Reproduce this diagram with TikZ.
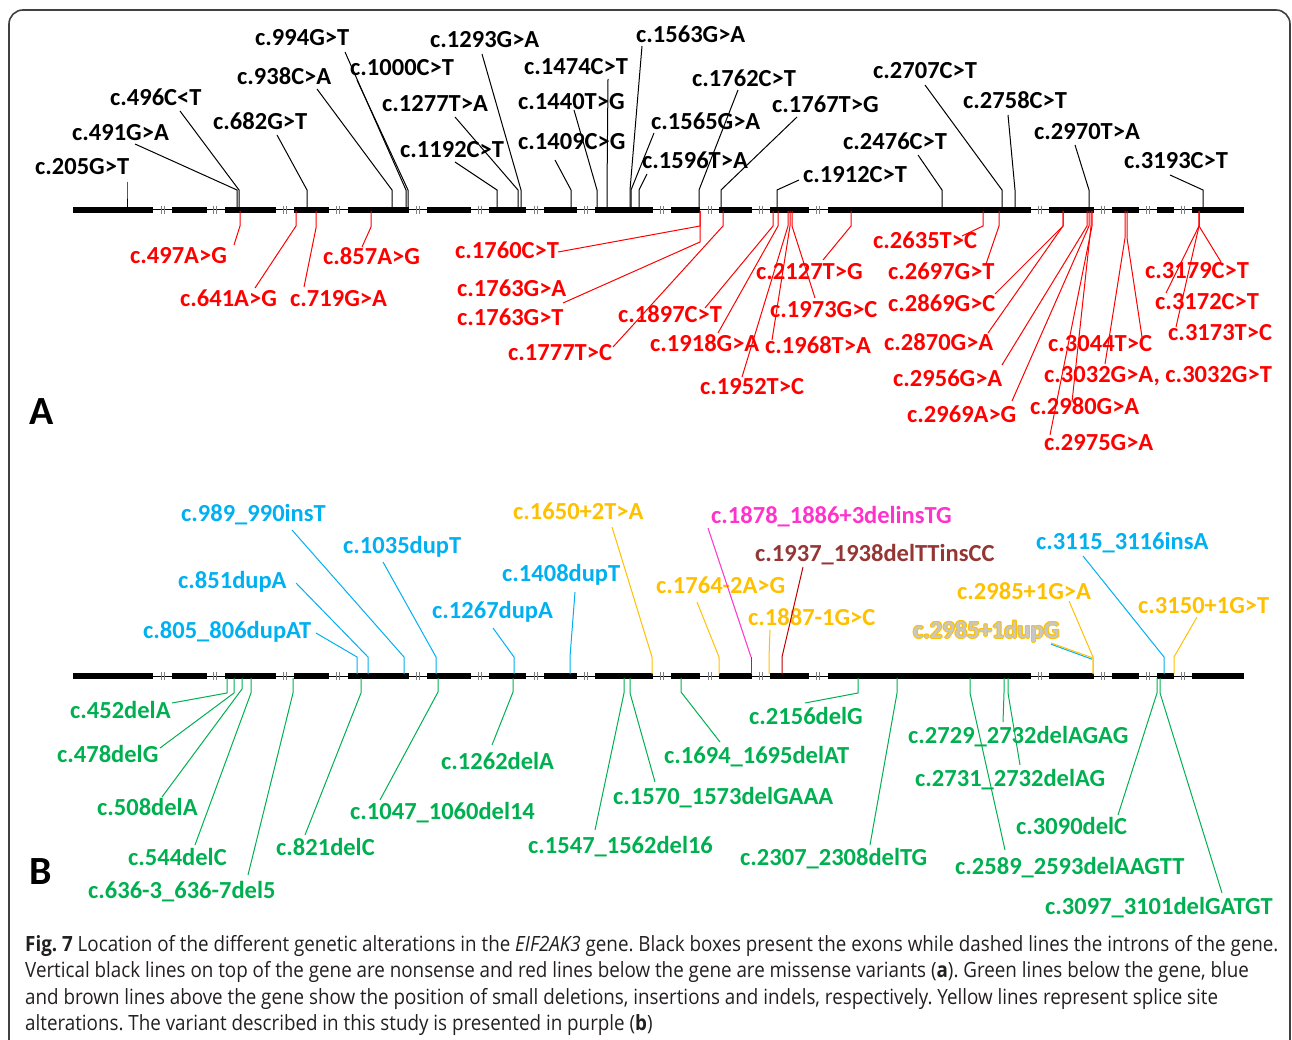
\documentclass[tikz,border=0pt]{standalone}
\usepackage{fontspec}
\setmainfont{Carlito}
\newfontfamily\capfont[FakeStretch=0.895]{Open Sans}
\frenchspacing

\definecolor{mis}{HTML}{FF0000}
\definecolor{ins}{HTML}{00B0F0}
\definecolor{spl}{HTML}{FFC000}
\definecolor{del}{HTML}{00B050}
\definecolor{pur}{HTML}{7030A0}
\definecolor{mag}{HTML}{FF33CC}
\definecolor{brw}{HTML}{943634}
\definecolor{dred}{HTML}{C00000}
\definecolor{captxt}{HTML}{231F20}
\definecolor{frm}{HTML}{404040}

\begin{document}
\begin{tikzpicture}[x=1pt,y=-1pt,
    var/.style={font=\fontsize{24.5}{28}\selectfont\bfseries,anchor=base west,inner sep=0pt},
    lnk/.style={line width=1pt},
    capline/.style={font=\capfont\fontsize{21}{26}\selectfont,text=captxt,anchor=base west,inner sep=0pt},
    panel/.style={font=\fontsize{40}{44}\selectfont\bfseries,anchor=base west,inner sep=0pt}]
  \useasboundingbox (0,0) rectangle (1292,1040);
  \draw[frm,line width=1.6pt,rounded corners=14] (9,1050) -- (9,10) -- (1290,10) -- (1290,1050);

  % --- gene model (A and B) ---
  \foreach \gy in {209.7,676}{
    \draw[line width=1pt] (73,\gy) -- (1244,\gy);
    \foreach \a/\b in {73/153,172/207,225/276,294/329,348/409,427/471,489/526,544/577,
        595/653,671/700,719/752,770/809,828/1031,1049/1094,1112/1139,1157/1174,1192/1244}
      \fill (\a,\gy-2.9) rectangle (\b,\gy+2.9);
    \foreach \m in {163,215,285,338,418,480,536,586,662,710,761,818,1040,1103,1148,1183}
      \draw[gray,line width=0.9pt] (\m-1.3,\gy-4) -- (\m-1.3,\gy+4) (\m+1.3,\gy-4) -- (\m+1.3,\gy+4);
  }

  % --- A: nonsense (above) ---
  \foreach \g/\ex/\ey/\lx/\ly/\t [count=\k] in {%
      127/127/182/35/175/{c.205G>T}, 237/135/144/72/141/{c.491G>A},
      239/180/111/110/106/{c.496C<T}, 307/277/135/213/130/{c.682G>T},
      392/317/89/237/85/{c.938C>A}, 406/345/52/255/46/{c.994G>T},
      408/357/80/350/76/{c.1000C>T}, 497/455/162/400/158/{c.1192C>T},
      518/455/117/382/112/{c.1277T>A}, 521/482/54/430/48/{c.1293G>A},
      571/555/160/518/150/{c.1409C>G}, 597/574/110/518/110/{c.1440T>G},
      607/608/79/524/75/{c.1474C>T}, 630/642/46/636/43/{c.1563G>A},
      631/654/133/651/130/{c.1565G>A}, 639/647/174/642/169/{c.1596T>A},
      699/738/90/692/87/{c.1762C>T}, 721/797/117/772/113/{c.1767T>G},
      777/799/180/803/183/{c.1912C>T}, 942/918/155/843/150/{c.2476C>T},
      1002/925/85/873/79/{c.2707C>T}, 1015/1008/115/963/109/{c.2758C>T},
      1089/1075/145/1034/140/{c.2970T>A}, 1203/1170/175/1124/169/{c.3193C>T}}{
    \node[var] (ns\k) at (\lx,\ly) {\t};
    \coordinate (nse\k) at (\ex,\ey);
    \coordinate (nsg\k) at (\g,208);
    \draw[lnk] (nse\k) -- (\g,190) -- (nsg\k);
  }

  % --- A: missense (below) ---
  \foreach \g/\by/\ex/\ey/\lx/\ly/\t [count=\k] in {%
      240/226/234/245/130/264/{c.497A>G}, 296/226/255/288/180/307/{c.641A>G},
      316/228/304/287/290/307/{c.719G>A}, 371/227/362/247/323/265/{c.857A>G},
      700/226/558/252/455/259/{c.1760C>T}, 700/242/563/303/457/297/{c.1763G>A},
      723/226/613/347/508/360/{c.1777T>C}, 773/226/705/308/618/323/{c.1897C>T},
      778/226/718/333/650/351/{c.1918G>A}, 788/226/742/377/700/394/{c.1952T>C},
      790/226/772/340/765/353/{c.1968T>A}, 792/226/815/298/770/317/{c.1973G>C},
      851/226/823/260/756/280/{c.2127T>G}, 983/226/962/236/873/249/{c.2635T>C},
      999/226/986/264/888/280/{c.2697G>T}, 1063/226/995/294/888/312/{c.2869G>C},
      1063/226/988/333/884/350/{c.2870G>A}, 1087/226/1002/365/893/386/{c.2956G>A},
      1089/226/1012/401/907/422/{c.2969A>G}, 1091/226/1072/402/1030/414/{c.2980G>A},
      1092/226/1050/435/1044/450/{c.2975G>A}, 1127/238/1142/337/1048/352/{c.3044T>C},
      1125/238/1105/364/1044/382/{c.3032G>A, c.3032G>T}, 1199/226/1221/262/1145/279/{c.3179C>T},
      1199/226/1166/293/1155/309/{c.3172C>T}, 1199/226/1176/327/1168/340/{c.3173T>C}}{
    \node[var,text=mis] (ms\k) at (\lx,\ly) {\t};
    \coordinate (mse\k) at (\ex,\ey);
    \coordinate (msg\k) at (\g,211);
    \draw[lnk,mis] (msg\k) -- (\g,\by) -- (mse\k);
  }
  \node[var,text=mis] (ms1763t) at (457,326) {c.1763G>T};

  \node[panel] (pa) at (29,424) {A};

  % --- B: insertions, indels, splice (above) ---
  \foreach \g/\ex/\ey/\lx/\ly/\t/\lc/\cc [count=\k] in {%
      357/316/633/143/638/{c.805\_806dupAT}/ins/ins,
      368/296/583/178/588/{c.851dupA}/ins/ins,
      404/292/530/181/521/{c.989\_990insT}/ins/ins,
      436/383/562/343/553/{c.1035dupT}/ins/ins,
      514/493/628/432/618/{c.1267dupA}/ins/ins,
      570/575/592/502/581/{c.1408dupT}/ins/ins,
      652/612/527/513/519/{c.1650+2T>A}/spl/spl,
      719/697/602/656/593/{c.1764-2A>G}/spl/spl,
      769/770/630/748/625/{c.1887-1G>C}/spl/spl,
      782/803/567/755/561/{c.1937\_1938delTTinsCC}/brw/dred,
      1093/1069/601/957/599/{c.2985+1G>A}/spl/spl,
      1164/1083/556/1036/549/{c.3115\_3116insA}/ins/ins,
      1174/1197/617/1138/613/{c.3150+1G>T}/spl/spl}{
    \node[var,text=\lc] (up\k) at (\lx,\ly) {\t};
    \coordinate (upe\k) at (\ex,\ey);
    \coordinate (upg\k) at (\g,674);
    \draw[lnk,\cc] (upe\k) -- (\g,657) -- (upg\k);
  }
  % variant of this study
  \node[var,text=mag] (study) at (711,523) {c.1878\_1886+3delinsTG};
  \coordinate (studye) at (708,528);
  \coordinate (studyg) at (751,674);
  \draw[lnk,mag] (studye) -- (751,657);
  \draw[lnk,pur] (751,657) -- (studyg);
  % outlined label
  \foreach \dx/\dy in {-1/0,1/0,0/-1,0/1,-0.8/-0.8,0.8/0.8,-0.8/0.8,0.8/-0.8}
    \node[var,text=spl] at (913+\dx,638+\dy) {c.2985+1dupG};
  \node[var,text=black!22] (dupg) at (913,638) {c.2985+1dupG};
  \coordinate (dupge) at (1051,643);
  \coordinate (dupgg) at (1093,674);
  \draw[lnk,ins] ([yshift=-1.2pt]dupge) -- ([yshift=-1.2pt]1092,658);
  \draw[lnk,spl] (dupge) -- (1093,658) -- (dupgg);

  % --- B: deletions (below) ---
  \foreach \g/\by/\ex/\ey/\lx/\ly/\t [count=\k] in {%
      227/693/172/703/70/718/{c.452delA}, 234/693/160/748/57/762/{c.478delG},
      242/689/162/797/97/815/{c.508delA}, 251/693/195/845/128/865/{c.544delC},
      293/693/248/875/88/898/{c.636-3\_636-7del5}, 361/693/305/835/276/855/{c.821delC},
      438/692/380/800/350/819/{c.1047\_1060del14}, 513/692/492/745/441/769/{c.1262delA},
      624/693/595/830/528/853/{c.1547\_1562del16}, 630/693/655/782/613/804/{c.1570\_1573delGAAA},
      681/692/720/742/664/763/{c.1694\_1695delAT}, 858/693/805/703/749/724/{c.2156delG},
      897/693/870/845/740/865/{c.2307\_2308delTG}, 1004/693/1003/722/908/743/{c.2729\_2732delAGAG},
      1008/693/1020/765/915/786/{c.2731\_2732delAG}, 970/693/1005/850/955/874/{c.2589\_2593delAAGTT},
      1157/693/1118/815/1016/834/{c.3090delC}, 1160/693/1222/893/1045/914/{c.3097\_3101delGATGT}}{
    \node[var,text=del] (dl\k) at (\lx,\ly) {\t};
    \coordinate (dle\k) at (\ex,\ey);
    \coordinate (dlg\k) at (\g,678);
    \draw[lnk,del] (dlg\k) -- (\g,\by) -- (dle\k);
  }

  \node[panel] (pb) at (29,884) {B};

  % --- caption ---
  \node[capline] (c1) at (25,951) {\textbf{Fig. 7} Location of the different genetic alterations in the \textit{EIF2AK3} gene. Black boxes present the exons while dashed lines the introns of the gene.};
  \node[capline] (c2) at (25,977) {Vertical black lines on top of the gene are nonsense and red lines below the gene are missense variants (\textbf{a}). Green lines below the gene, blue};
  \node[capline] (c3) at (25,1004) {and brown lines above the gene show the position of small deletions, insertions and indels, respectively. Yellow lines represent splice site};
  \node[capline] (c4) at (25,1030) {alterations. The variant described in this study is presented in purple (\textbf{b})};
\end{tikzpicture}
\end{document}
